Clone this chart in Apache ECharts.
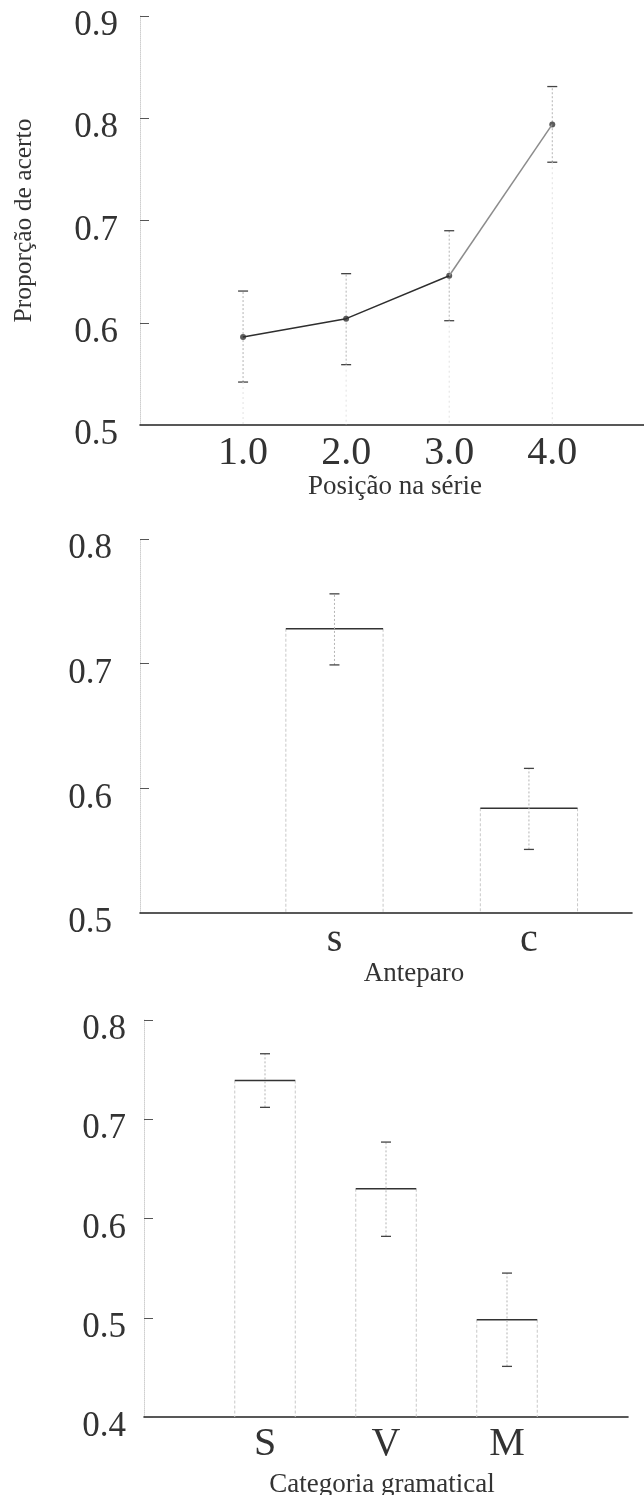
<!DOCTYPE html>
<html>
<head>
<meta charset="utf-8">
<script src="https://cdn.jsdelivr.net/npm/echarts@6/dist/echarts.min.js"></script>
<style>
html, body { margin: 0; padding: 0; background: #fff; }
#chart { width: 644px; height: 1495px; }
</style>
</head>
<body>
<div id="chart"></div>
<script>
// Painel 1 - Posição na série
var posicoes = [1, 2, 3, 4];
var posicaoLabels = ['1.0', '2.0', '3.0', '4.0'];
var acertoPosicao = [0.586, 0.604, 0.646, 0.794];
var infPosicao = [0.542, 0.559, 0.602, 0.757];
var supPosicao = [0.631, 0.648, 0.690, 0.831];

// Painel 2 - Anteparo
var anteparos = ['s', 'c'];
var acertoAnteparo = [0.728, 0.584];
var infAnteparo = [0.699, 0.551];
var supAnteparo = [0.756, 0.616];

// Painel 3 - Categoria gramatical
var categorias = ['S', 'V', 'M'];
var acertoCategoria = [0.739, 0.630, 0.498];
var infCategoria = [0.712, 0.582, 0.451];
var supCategoria = [0.766, 0.677, 0.545];

// limites dos eixos y
var yMin1 = 0.5, yMax1 = 0.9;
var yMin2 = 0.5, yMax2 = 0.8;
var yMin3 = 0.4, yMax3 = 0.8;

var fonte = "'Liberation Serif', 'DejaVu Serif', serif";

// barras de erro: haste pontilhada clara, traços escuros nas pontas
function renderErro(params, api) {
    var x = api.value(0);
    var lo = api.coord([x, api.value(1)]);
    var hi = api.coord([x, api.value(2)]);
    var cap = 5;
    var filhos = [
        { type: 'line', shape: { x1: lo[0], y1: lo[1], x2: hi[0], y2: hi[1] },
          style: { stroke: '#b4b4b4', lineWidth: 1, lineDash: [2, 2] } },
        { type: 'line', shape: { x1: hi[0] - cap, y1: hi[1], x2: hi[0] + cap, y2: hi[1] },
          style: { stroke: '#444', lineWidth: 1.3 } },
        { type: 'line', shape: { x1: lo[0] - cap, y1: lo[1], x2: lo[0] + cap, y2: lo[1] },
          style: { stroke: '#444', lineWidth: 1.3 } }
    ];
    // linha de chamada até o eixo (só no painel 1)
    if (api.value(3)) {
        var base = api.coord([x, api.value(3)]);
        filhos.push({ type: 'line', shape: { x1: lo[0], y1: lo[1], x2: base[0], y2: base[1] },
            style: { stroke: '#e2e2e2', lineWidth: 1, lineDash: [2, 3] } });
    }
    return { type: 'group', children: filhos };
}

// barras vazadas: topo escuro, lados pontilhados claros
function renderBarra(params, api) {
    var x = api.value(0);
    var topo = api.coord([x, api.value(1)]);
    var base = api.coord([x, api.value(2)]);
    var w = api.size([0.5, 0])[0];
    var x0 = topo[0] - w / 2, x1 = topo[0] + w / 2;
    return {
        type: 'group',
        children: [
            { type: 'line', shape: { x1: x0, y1: topo[1], x2: x0, y2: base[1] },
              style: { stroke: '#c8c8c8', lineWidth: 1, lineDash: [3, 2] } },
            { type: 'line', shape: { x1: x1, y1: topo[1], x2: x1, y2: base[1] },
              style: { stroke: '#c8c8c8', lineWidth: 1, lineDash: [3, 2] } },
            { type: 'line', shape: { x1: x0, y1: topo[1], x2: x1, y2: topo[1] },
              style: { stroke: '#333', lineWidth: 1.5 } }
        ]
    };
}

function eixoY(gridIndex, min, max, margin) {
    return {
        gridIndex: gridIndex,
        type: 'value',
        min: min,
        max: max,
        interval: 0.1,
        axisLine: { show: true, lineStyle: { color: '#cfcfcf', type: 'dotted', width: 1 } },
        axisTick: { show: true, inside: true, length: 9, lineStyle: { color: '#555', width: 1 } },
        splitLine: { show: false },
        axisLabel: {
            fontFamily: fonte,
            fontSize: 35,
            color: '#333',
            margin: margin,
            verticalAlign: 'top',
            lineHeight: 20,
            formatter: function (v) { return v.toFixed(1); }
        }
    };
}

function eixoX(gridIndex, max, labels, margin, nome, nameGap, namePad) {
    return {
        gridIndex: gridIndex,
        type: 'value',
        min: 0,
        max: max,
        interval: 1,
        axisLine: { show: true, onZero: false, lineStyle: { color: '#222', width: 1.6 } },
        axisTick: { show: false },
        splitLine: { show: false },
        axisLabel: {
            fontFamily: fonte,
            fontSize: 40,
            color: '#333',
            margin: margin,
            showMaxLabel: false,
            formatter: function (v) {
                return (v >= 1 && v <= labels.length && v % 1 === 0) ? labels[v - 1] : '';
            }
        },
        name: nome,
        nameLocation: 'middle',
        nameGap: nameGap,
        nameTextStyle: { fontFamily: fonte, fontSize: 27, color: '#333', padding: namePad }
    };
}

function linhaPosicao(ini, fim) {
    return posicoes.slice(ini, fim).map(function (p, i) {
        return [p, acertoPosicao[ini + i]];
    });
}

var chart = echarts.init(document.getElementById('chart'));
var option = {
    backgroundColor: '#fff',
    animation: false,
    grid: [
        { left: 140, top: 16, width: 504, height: 409, outerBoundsMode: 'none' },
        { left: 140, top: 539, width: 492, height: 374, outerBoundsMode: 'none' },
        { left: 144, top: 1020, width: 484, height: 397, outerBoundsMode: 'none' }
    ],
    xAxis: [
        eixoX(0, 4.89, posicaoLabels, 8, 'Posição na série', 45, [0, 0, 0, 6]),
        eixoX(1, 2.53, anteparos, 7, 'Anteparo', 37, [0, 0, 0, 56]),
        eixoX(2, 4, categorias, 7, 'Categoria gramatical', 54, [0, 8, 0, 0])
    ],
    yAxis: [
        Object.assign(eixoY(0, yMin1, yMax1, 22), {
            name: 'Proporção de acerto',
            nameLocation: 'middle',
            nameRotate: 90,
            nameGap: 103,
            nameTextStyle: { fontFamily: fonte, fontSize: 25.5, color: '#333' }
        }),
        eixoY(1, yMin2, yMax2, 28),
        eixoY(2, yMin3, yMax3, 18)
    ],
    series: [
        {
            // trecho 1.0 - 3.0 (escuro)
            type: 'line',
            xAxisIndex: 0,
            yAxisIndex: 0,
            showSymbol: false,
            lineStyle: { width: 1.5, color: '#2e2e2e' },
            data: linhaPosicao(0, 3)
        },
        {
            // trecho 3.0 - 4.0 (mais claro)
            type: 'line',
            xAxisIndex: 0,
            yAxisIndex: 0,
            showSymbol: false,
            lineStyle: { width: 1.5, color: '#8c8c8c' },
            data: linhaPosicao(2, 4)
        },
        {
            type: 'custom',
            xAxisIndex: 0,
            yAxisIndex: 0,
            renderItem: renderErro,
            data: posicoes.map(function (p, i) { return [p, infPosicao[i], supPosicao[i], yMin1]; })
        },
        {
            type: 'scatter',
            xAxisIndex: 0,
            yAxisIndex: 0,
            symbolSize: 6,
            itemStyle: { color: '#333' },
            data: linhaPosicao(0, 4)
        },
        {
            type: 'custom',
            xAxisIndex: 1,
            yAxisIndex: 1,
            renderItem: renderBarra,
            data: anteparos.map(function (c, i) { return [i + 1, acertoAnteparo[i], yMin2]; })
        },
        {
            type: 'custom',
            xAxisIndex: 1,
            yAxisIndex: 1,
            renderItem: renderErro,
            data: anteparos.map(function (c, i) { return [i + 1, infAnteparo[i], supAnteparo[i], 0]; })
        },
        {
            type: 'custom',
            xAxisIndex: 2,
            yAxisIndex: 2,
            renderItem: renderBarra,
            data: categorias.map(function (c, i) { return [i + 1, acertoCategoria[i], yMin3]; })
        },
        {
            type: 'custom',
            xAxisIndex: 2,
            yAxisIndex: 2,
            renderItem: renderErro,
            data: categorias.map(function (c, i) { return [i + 1, infCategoria[i], supCategoria[i], 0]; })
        }
    ]
};
chart.setOption(option);
</script>
</body>
</html>
